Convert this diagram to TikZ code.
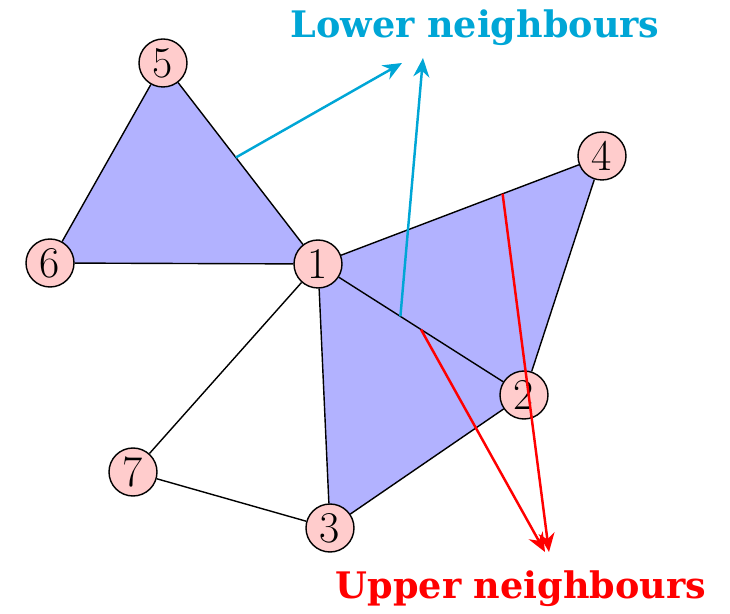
\documentclass[tikz,border=0pt]{standalone}
\usepackage{fontspec}
\newfontfamily\slabfont{DejaVu Serif}
\usepackage{tikz}
\usetikzlibrary{arrows.meta,calc,backgrounds}
\definecolor{lowcol}{HTML}{00A6D6}
\tikzset{vtx/.style={draw,circle,fill=red!20,minimum size=0.96cm,inner sep=0pt,line width=0.8pt,font=\fontsize{25}{30}\selectfont},
  tri/.style={fill=blue!30},
  edge/.style={line width=0.8pt},
  lowarr/.style={-{Stealth[length=3.8mm,width=3.2mm]},lowcol,line width=1.4pt},
  uparr/.style={-{Stealth[length=3.8mm,width=3.2mm]},red,line width=1.4pt},
  tag/.style={font=\slabfont\bfseries\fontsize{20.8}{24}\selectfont}}

\begin{document}
\begin{tikzpicture}
\useasboundingbox (0,0) rectangle (14.6,-12.28);
\node[vtx] (v5) at (3.26,-1.26) {5};
\node[vtx] (v6) at (1.0,-5.26) {6};
\node[vtx] (v1) at (6.36,-5.28) {1};
\node[vtx] (v4) at (12.04,-3.12) {4};
\node[vtx] (v2) at (10.48,-7.9) {2};
\node[vtx] (v7) at (2.66,-9.44) {7};
\node[vtx] (v3) at (6.6,-10.56) {3};
\begin{scope}[on background layer]
\fill[tri] (v5.center) -- (v6.center) -- (v1.center) -- cycle;
\fill[tri] (v1.center) -- (v4.center) -- (v2.center) -- cycle;
\fill[tri] (v1.center) -- (v2.center) -- (v3.center) -- cycle;
\end{scope}
\draw[edge] (v5) -- (v6) (v6) -- (v1) (v1) -- (v5);
\draw[edge] (v1) -- (v4) (v4) -- (v2) (v2) -- (v1);
\draw[edge] (v2) -- (v3) (v3) -- (v1) (v1) -- (v7) (v7) -- (v3);
% labels
\node[tag,text=lowcol] (lowtxt) at (9.5,-0.56) {Lower neighbours};
\node[tag,text=red] (uptxt) at (10.42,-11.78) {Upper neighbours};
\coordinate (lowA) at (8.04,-1.26);
\coordinate (lowB) at (8.46,-1.16);
\coordinate (upA) at (10.9,-11.04);
\coordinate (upB) at (10.98,-11.04);
% arrows
\draw[lowarr] ($(v5)!0.47!(v1)$) -- (lowA);
\draw[lowarr] ($(v1)!0.4!(v2)$) -- (lowB);
\draw[uparr] ($(v1)!0.5!(v2)$) -- (upA);
\draw[uparr] ($(v1)!0.65!(v4)$) -- (upB);
\end{tikzpicture}
\end{document}
